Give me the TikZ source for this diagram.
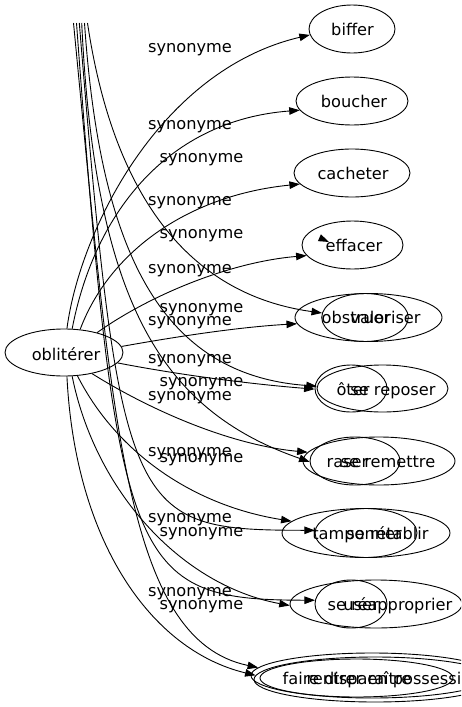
\documentclass[tikz,border=0pt]{standalone}
\usepackage{fontspec}
\setmainfont{DejaVu Sans}
\usetikzlibrary{shapes.geometric,arrows.meta}
\tikzset{
  nd/.style={draw, ellipse, line width=0.9pt, inner sep=0pt},
  txt/.style={font=\fontsize{16.2}{19}\selectfont, inner sep=0pt, anchor=base},
  lbl/.style={font=\fontsize{16.2}{19}\selectfont, inner sep=0pt},
  edge/.style={draw, line width=0.9pt, -{Triangle[length=10.5pt,width=7.5pt]}},
}
\begin{document}
\begin{tikzpicture}[x=1pt,y=-1pt]
\useasboundingbox (0,0) rectangle (461,707);
\clip (0,0) rectangle (461,707);
\fill[white] (0,0) rectangle (461,707);
% source node
\node[nd, minimum width=118pt, minimum height=47pt] (obl) at (64,352.5) {};
\node[txt] (tobl) at (66,360) {oblitérer};
% single targets
\node[nd, minimum width=86pt, minimum height=48pt] (biffer) at (352,29) {};
\node[txt] (tbiffer) at (352.5,35.5) {biffer};
\node[nd, minimum width=112pt, minimum height=48pt] (boucher) at (352,101) {};
\node[txt] (tboucher) at (354,107.5) {boucher};
\node[nd, minimum width=116pt, minimum height=48pt] (cacheter) at (352,173) {};
\node[txt] (tcacheter) at (353,179.5) {cacheter};
\node[nd, minimum width=101pt, minimum height=48pt] (effacer) at (352.5,245) {};
\node[txt] (teffacer) at (354,251.5) {effacer};
% group 1
\node[nd, minimum width=147pt, minimum height=48pt] (g1b) at (368.5,317.5) {};
\node[nd, minimum width=86.6pt, minimum height=48pt] (g1a) at (365,317.5) {};
\node[txt] (tobstruer) at (356,323) {obstruer};
\node[txt] (tvaloriser) at (385.5,323) {valoriser};
% group 2
\node[nd, minimum width=131pt, minimum height=47pt] (g2b) at (382.5,388.5) {};
\node[nd, minimum width=72pt, minimum height=47pt] (g2a) at (351,388.5) {};
\node[txt] (toter) at (353,395) {ôter};
\node[txt] (treposer) at (393,395) {se reposer};
% group 3
\node[nd, minimum width=152pt, minimum height=48pt] (g3b) at (379,461) {};
\node[nd, minimum width=90pt, minimum height=48pt] (g3a) at (355,461) {};
\node[txt] (traser) at (347.5,467.5) {raser};
\node[txt] (tremettre) at (388,467.5) {se remettre};
% group 4
\node[nd, minimum width=168pt, minimum height=49pt] (g4b) at (366,533) {};
\node[nd, minimum width=102pt, minimum height=49pt] (g4a) at (366,533) {};
\node[txt] (ttamponner) at (357,539.5) {tamponner};
\node[txt] (tretablir) at (387.5,539.5) {se rétablir};
% group 5
\node[nd, minimum width=172pt, minimum height=48pt] (g5b) at (376,604) {};
\node[nd, minimum width=72pt, minimum height=48pt] (g5a) at (351,604) {};
\node[txt] (tuser) at (361,610.5) {user};
\node[txt] (tapproprier) at (390,610.5) {se réapproprier};
% group 6
\node[nd, minimum width=242pt, minimum height=45pt] (g6b) at (372,675.5) {};
\node[nd, minimum width=242pt, minimum height=45pt] (g6c) at (375,679.5) {};
\node[nd, minimum width=193pt, minimum height=38pt] (g6a) at (356.5,678) {};
\node[txt] (tfaire) at (347,684.5) {faire disparaître};
\node[txt] (trentrer) at (394,684.5) {rentrer en possession};
% labels
\node[lbl] (l1) at (190,50) {synonyme};
\node[lbl] (l2) at (190,126.5) {synonyme};
\node[lbl] (l3) at (190,202.5) {synonyme};
\node[lbl] (l4) at (190,271) {synonyme};
\node[lbl] (l5) at (190,322.5) {synonyme};
\node[lbl] (l6) at (190,361) {synonyme};
\node[lbl] (l7) at (190,397.5) {synonyme};
\node[lbl] (l8) at (190,453.5) {synonyme};
\node[lbl] (l9) at (190,520) {synonyme};
\node[lbl] (l10) at (190,593.5) {synonyme};
\node[lbl] (m1) at (201.5,159.5) {synonyme};
\node[lbl] (m2) at (201.5,236) {synonyme};
\node[lbl] (m3) at (201.5,310) {synonyme};
\node[lbl] (m4) at (201.5,384) {synonyme};
\node[lbl] (m5) at (201.5,460) {synonyme};
\node[lbl] (m6) at (201.5,533.5) {synonyme};
\node[lbl] (m7) at (201.5,606.5) {synonyme};
% free ends at the top
\coordinate (r1) at (87.5,23);
\coordinate (r2) at (84.5,23);
\coordinate (r3) at (81.7,23);
\coordinate (r4) at (79.3,23);
\coordinate (r5) at (76.5,23);
\coordinate (r6) at (73.5,23);
% edges from oblitérer
\draw[edge] (obl.83) .. controls (80,230) and (160,70) .. (biffer.188);
\draw[edge] (obl.71) .. controls (95,210) and (170,120) .. (boucher.190);
\draw[edge] (obl.55) .. controls (110,250) and (190,195) .. (cacheter.192);
\draw[edge] (obl.31) .. controls (150,295) and (230,262) .. (effacer.193);
\draw[edge] (obl.6) .. controls (180,336) and (240,327) .. (g1b.185);
\draw[edge] (obl.349) .. controls (180,375) and (250,384) .. (g2a.181);
\draw[edge] (obl.323) .. controls (150,410) and (230,445) .. (g3b.173);
\draw[edge] (obl.300) .. controls (115,450) and (190,505) .. (g4b.171);
\draw[edge] (obl.289) .. controls (95,490) and (180,585) .. (g5b.181);
\draw[edge] (obl.277) .. controls (75,540) and (150,650) .. (g6c.178);
% edges from the top
\draw[edge] (r1) .. controls (105,140) and (155,290) .. (g1a.174);
\draw[edge] (r2) .. controls (100,250) and (160,375) .. (g2b.178);
\draw[edge] (r3) .. controls (95,300) and (160,410) .. (g3a.181);
\draw[edge] (r4) .. controls (120,520) and (130,530) .. (g4a.177);
\draw[edge] (r5) .. controls (117,570) and (130,600) .. (g5a.174);
\draw[edge] (r6) .. controls (112,420) and (125,640) .. (g6b.176);
% lone arrowhead inside effacer
\fill (329,242) -- (317.9,241.1) -- (320.9,234.3) -- cycle;
\end{tikzpicture}
\end{document}
